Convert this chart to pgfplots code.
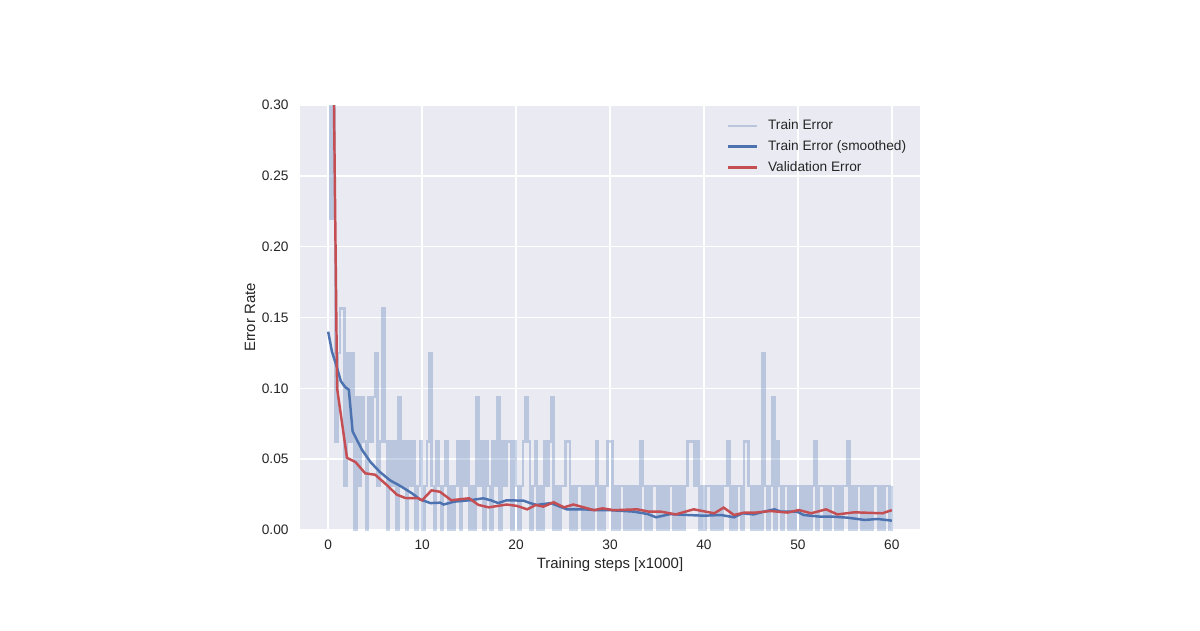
\documentclass[border=0pt]{standalone}
\usepackage{fontspec}
\setmainfont{Liberation Sans}
\usepackage{pgfplots}
\pgfplotsset{compat=1.18}
\definecolor{sbbg}{HTML}{EAEAF2}
\definecolor{sbblue}{HTML}{4C72B0}
\definecolor{sbred}{HTML}{C44E52}
\definecolor{sbtext}{HTML}{262626}
\begin{document}
\begin{tikzpicture}
\path[use as bounding box, fill=white] (0,0) rectangle (24,12.6);
\begin{axis}[
  at={(6cm,2cm)}, anchor=south west,
  width=12.4cm, height=8.5cm, scale only axis,
  xmin=-3, xmax=63, ymin=0, ymax=0.30,
  axis background/.style={fill=sbbg},
  axis line style={draw=none},
  major tick length=0pt,
  grid=major, major grid style={white, line width=0.8pt},
  xtick={0,10,20,30,40,50,60},
  ytick={0,0.05,0.10,0.15,0.20,0.25,0.30},
  yticklabel style={/pgf/number format/.cd, fixed, fixed zerofill, precision=2},
  /pgf/number format/assume math mode=true,
  tick label style={font=\fontsize{7.8}{9}\selectfont, text=sbtext},
  xticklabel shift=2pt, yticklabel shift=3pt,
  xlabel={Training steps [x1000]}, ylabel={Error Rate},
  label style={font=\fontsize{8.5}{10}\selectfont, text=sbtext},
  xlabel style={at={(axis description cs:0.5,-0.0824)}, anchor=center},
  ylabel style={at={(axis description cs:-0.0806,0.5)}, anchor=center},
  legend style={draw=none, fill=none, at={(axis description cs:0.679,0.975)}, anchor=north west,
    font=\fontsize{7.8}{9}\selectfont, text=sbtext, row sep=4.7pt,
    nodes={inner sep=0pt, anchor=west},
    /tikz/every odd column/.append style={column sep=0.2cm}},
  legend cell align=left,
  legend image code/.code={\draw[#1] (0cm,0cm) -- (0.58cm,0cm);},
]
% raw per-batch training error (batch of 32)
\addplot[sbblue, opacity=0.3, line width=1.35pt, const plot] coordinates {
(0,0.47) (0.25,0.22) (0.5,0.38) (0.75,0.0625) (1,0.125) (1.25,0.15625) (1.5,0.15625) (1.75,0.03125)
(2,0.125) (2.25,0.0625) (2.5,0.125) (2.75,0) (3,0.09375) (3.25,0.03125) (3.5,0.09375) (3.75,0.0625)
(4,0) (4.25,0.09375) (4.5,0.0625) (4.75,0.09375) (5,0.125) (5.25,0.03125) (5.5,0.0625) (5.75,0.15625)
(6,0.0625) (6.25,0) (6.5,0.0625) (6.75,0.03125) (7,0.0625) (7.25,0) (7.5,0.09375) (7.75,0.03125)
(8,0.0625) (8.25,0) (8.5,0.0625) (8.75,0.03125) (9,0.0625) (9.25,0) (9.5,0.03125) (9.75,0.0625)
(10,0) (10.25,0.03125) (10.5,0.0625) (10.75,0.125) (11,0.03125) (11.25,0) (11.5,0.0625) (11.75,0.03125)
(12,0) (12.25,0.03125) (12.5,0.0625) (12.75,0) (13,0.03125) (13.25,0) (13.5,0.03125) (13.75,0.0625)
(14,0) (14.25,0.0625) (14.5,0.03125) (14.75,0.0625) (15,0) (15.25,0.03125) (15.5,0) (15.75,0.09375)
(16,0.03125) (16.25,0.0625) (16.5,0) (16.75,0.0625) (17,0.03125) (17.25,0) (17.5,0.0625) (17.75,0.03125)
(18,0.09375) (18.25,0) (18.5,0.0625) (18.75,0.03125) (19,0.0625) (19.25,0.0625) (19.5,0) (19.75,0.0625)
(20,0.03125) (20.25,0) (20.5,0.03125) (20.75,0.0625) (21,0.09375) (21.25,0.0625) (21.5,0) (21.75,0.03125)
(22,0.0625) (22.25,0) (22.5,0.03125) (22.75,0) (23,0.0625) (23.25,0.03125) (23.5,0.0625) (23.75,0.09375)
(24,0) (24.25,0.03125) (24.5,0) (24.75,0.03125) (25,0.03125) (25.25,0.0625) (25.5,0.0625) (25.75,0)
(26,0.03125) (26.25,0) (26.5,0.03125) (26.75,0.03125) (27,0) (27.25,0.03125) (27.5,0) (27.75,0.03125)
(28,0) (28.25,0.03125) (28.5,0.0625) (28.75,0) (29,0.03125) (29.25,0) (29.5,0.03125) (29.75,0.0625)
(30,0.0625) (30.25,0) (30.5,0.03125) (30.75,0) (31,0.03125) (31.25,0.03125) (31.5,0) (31.75,0.03125)
(32,0) (32.25,0.03125) (32.5,0) (32.75,0.03125) (33,0) (33.25,0.0625) (33.5,0.03125) (33.75,0)
(34,0.03125) (34.25,0) (34.5,0.03125) (34.75,0.03125) (35,0) (35.25,0.03125) (35.5,0) (35.75,0.03125)
(36,0) (36.25,0.03125) (36.5,0.03125) (36.75,0) (37,0.03125) (37.25,0) (37.5,0.03125) (37.75,0)
(38,0.03125) (38.25,0.0625) (38.5,0.0625) (38.75,0.0625) (39,0.03125) (39.25,0.0625) (39.5,0) (39.75,0.03125)
(40,0) (40.25,0.03125) (40.5,0.03125) (40.75,0) (41,0.03125) (41.25,0) (41.5,0.03125) (41.75,0)
(42,0.03125) (42.25,0.03125) (42.5,0.0625) (42.75,0) (43,0.03125) (43.25,0) (43.5,0.03125) (43.75,0.03125)
(44,0) (44.25,0.0625) (44.5,0.0625) (44.75,0.03125) (45,0) (45.25,0.03125) (45.5,0) (45.75,0.03125)
(46,0) (46.25,0.125) (46.5,0.03125) (46.75,0) (47,0.03125) (47.25,0.09375) (47.5,0) (47.75,0.0625)
(48,0.03125) (48.25,0) (48.5,0.03125) (48.75,0.03125) (49,0) (49.25,0.03125) (49.5,0) (49.75,0.03125)
(50,0.03125) (50.25,0) (50.5,0.03125) (50.75,0) (51,0.03125) (51.25,0) (51.5,0.03125) (51.75,0.0625)
(52,0) (52.25,0.03125) (52.5,0.03125) (52.75,0) (53,0.03125) (53.25,0) (53.5,0.03125) (53.75,0.03125)
(54,0) (54.25,0.03125) (54.5,0) (54.75,0.03125) (55,0.03125) (55.25,0.0625) (55.5,0) (55.75,0.03125)
(56,0) (56.25,0.03125) (56.5,0.03125) (56.75,0) (57,0.03125) (57.25,0) (57.5,0.03125) (57.75,0)
(58,0.03125) (58.25,0.03125) (58.5,0) (58.75,0.03125) (59,0) (59.25,0.03125) (59.5,0.03125) (59.75,0)
(60,0.03125)
};
\addlegendentry{Train Error}
% exponentially smoothed training error
\addplot[sbblue, line width=1.4pt] coordinates {
(0,0.140) (0.4,0.126) (0.9,0.1155) (1.35,0.105) (1.8,0.101) (2.2,0.099) (2.6,0.0696) (3.05,0.0637)
(3.6,0.0566) (4.5,0.048) (5.5,0.041) (6.6,0.035) (7.7,0.031) (8.9,0.026) (9.8,0.0215) (10.9,0.019)
(11.9,0.0193) (12.3,0.018) (13.4,0.020) (15.1,0.021) (16.5,0.0224) (17.3,0.021) (18.1,0.019) (19.0,0.021)
(20.8,0.0207) (21.5,0.019) (22.2,0.0177) (23.7,0.019) (25.4,0.0146) (27.2,0.0146) (28.6,0.014) (30.0,0.014)
(32.5,0.013) (34.0,0.0113) (34.9,0.009) (36.4,0.0112) (38.2,0.0106) (40.0,0.0101) (41.8,0.0106) (43.2,0.009)
(44.1,0.0118) (45.3,0.011) (46.4,0.013) (47.5,0.0146) (48.2,0.013) (49.9,0.013) (50.6,0.0106) (52.4,0.0094)
(53.8,0.0094) (55.3,0.0087) (57.1,0.0071) (58.5,0.0078) (60.0,0.0066)
};
\addlegendentry{Train Error (smoothed)}
% validation error
\addplot[sbred, line width=1.4pt] coordinates {
(0,0.67) (0.95,0.100) (2.0,0.051) (2.9,0.048) (3.95,0.040) (5.0,0.039) (6.2,0.032) (7.3,0.025)
(8.2,0.0226) (9.6,0.0224) (10.0,0.021) (11.0,0.028) (11.9,0.027) (13.1,0.021) (15.0,0.0224) (16.0,0.0177)
(17.1,0.016) (19.0,0.018) (20.1,0.017) (21.2,0.0146) (22.1,0.0177) (22.9,0.0165) (24.0,0.0196) (25.1,0.016)
(26.1,0.018) (27.2,0.016) (28.3,0.014) (29.2,0.0153) (30.4,0.014) (32.9,0.0146) (34.1,0.013) (35.4,0.013)
(37.0,0.011) (38.9,0.0146) (41.1,0.0118) (42.1,0.0158) (43.2,0.0106) (44.3,0.0123) (45.5,0.0123) (47.1,0.0134)
(48.9,0.0123) (50.1,0.0141) (51.4,0.0118) (53.0,0.0146) (54.2,0.011) (56.0,0.0125) (59.0,0.0118) (60.0,0.014)
};
\addlegendentry{Validation Error}
\end{axis}
\end{tikzpicture}
\end{document}
